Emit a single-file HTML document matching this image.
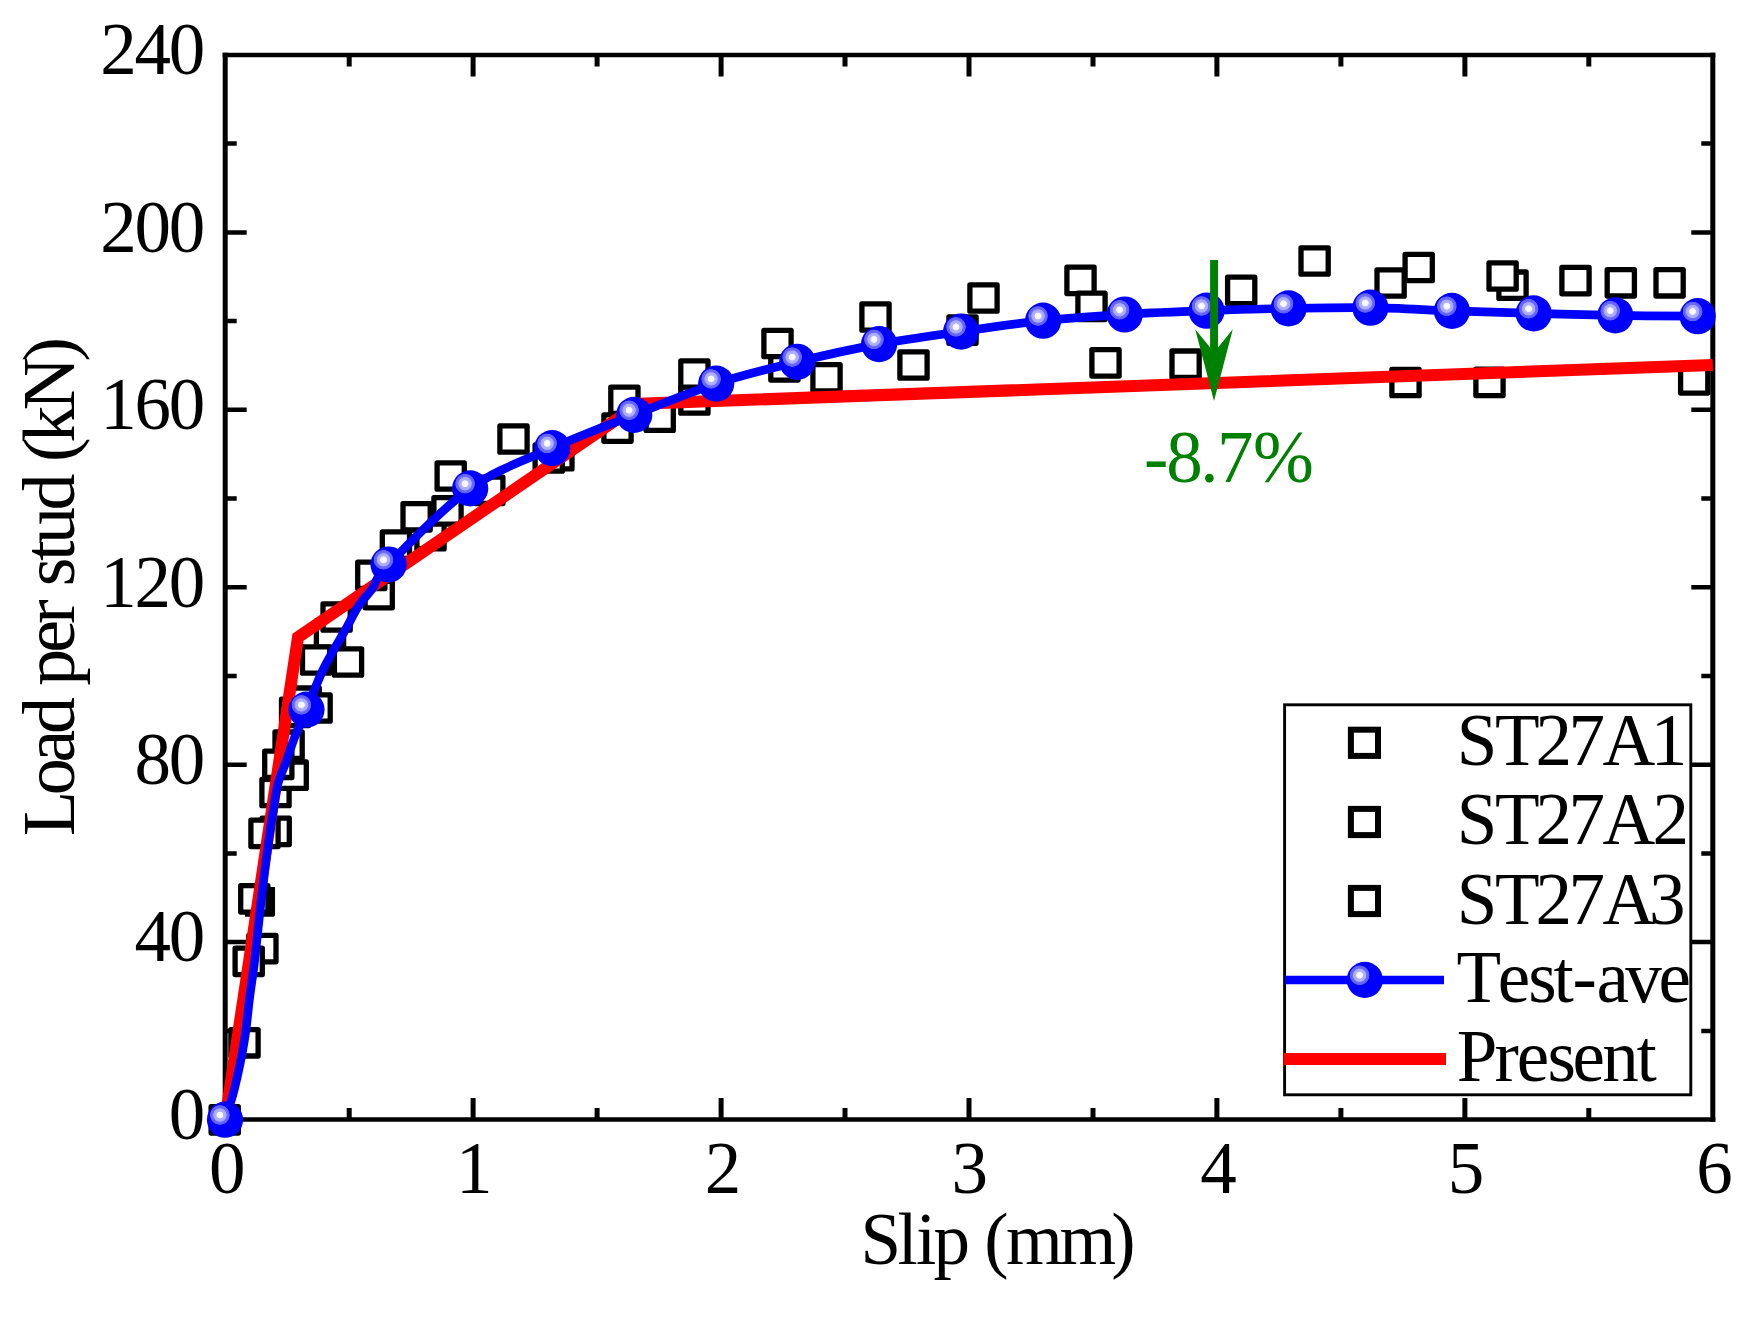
<!DOCTYPE html>
<html><head><meta charset="utf-8"><title>Load-slip curve</title>
<style>html,body{margin:0;padding:0;background:#fff}svg{display:block}</style></head>
<body>
<svg width="1761" height="1317" viewBox="0 0 1761 1317">
<defs>
<radialGradient id="ballh" cx="0.5" cy="0.5" r="0.5">
<stop offset="0" stop-color="#ffffff"/>
<stop offset="0.30" stop-color="#f4f4ff"/>
<stop offset="0.36" stop-color="#b4b4ff"/>
<stop offset="0.62" stop-color="#a8a8ff"/>
<stop offset="0.68" stop-color="#6c6cff"/>
<stop offset="0.92" stop-color="#6060ff"/>
<stop offset="1" stop-color="#0000ff"/>
</radialGradient>
</defs>
<rect width="1761" height="1317" fill="#fff"/>
<path d="M222.7,54.9 H1715.3 M222.7,1119.6 H1715.3" stroke="#000" stroke-width="4.5" fill="none"/>
<path d="M225.2,52.65 V1121.85 M1712.8,52.65 V1121.85" stroke="#000" stroke-width="5.0" fill="none"/>
<path d="M349.2,1119.6 v-11.5 M349.2,54.9 v11.5 M473.1,1119.6 v-21.5 M473.1,54.9 v21.5 M597.1,1119.6 v-11.5 M597.1,54.9 v11.5 M721.1,1119.6 v-21.5 M721.1,54.9 v21.5 M845.0,1119.6 v-11.5 M845.0,54.9 v11.5 M969.0,1119.6 v-21.5 M969.0,54.9 v21.5 M1093.0,1119.6 v-11.5 M1093.0,54.9 v11.5 M1216.9,1119.6 v-21.5 M1216.9,54.9 v21.5 M1340.9,1119.6 v-11.5 M1340.9,54.9 v11.5 M1464.9,1119.6 v-21.5 M1464.9,54.9 v21.5 M1588.8,1119.6 v-11.5 M1588.8,54.9 v11.5" stroke="#000" stroke-width="5.0" fill="none"/>
<path d="M225.2,1030.9 h11.5 M1712.8,1030.9 h-11.5 M225.2,942.1 h21.5 M1712.8,942.1 h-21.5 M225.2,853.4 h11.5 M1712.8,853.4 h-11.5 M225.2,764.7 h21.5 M1712.8,764.7 h-21.5 M225.2,676.0 h11.5 M1712.8,676.0 h-11.5 M225.2,587.2 h21.5 M1712.8,587.2 h-21.5 M225.2,498.5 h11.5 M1712.8,498.5 h-11.5 M225.2,409.8 h21.5 M1712.8,409.8 h-21.5 M225.2,321.1 h11.5 M1712.8,321.1 h-11.5 M225.2,232.4 h21.5 M1712.8,232.4 h-21.5 M225.2,143.6 h11.5 M1712.8,143.6 h-11.5" stroke="#000" stroke-width="4.5" fill="none"/>
<g fill="#fff" stroke="#000" stroke-width="5.3" stroke-linejoin="round">
<rect x="211.1" y="1106.7" width="27.2" height="26.4"/>
<rect x="230.9" y="1029.6" width="27.2" height="26.4"/>
<rect x="248.8" y="935.4" width="27.2" height="26.4"/>
<rect x="235.1" y="948.2" width="27.2" height="26.4"/>
<rect x="240.7" y="885.7" width="27.2" height="26.4"/>
<rect x="262.1" y="818.2" width="27.2" height="26.4"/>
<rect x="250.9" y="820.2" width="27.2" height="26.4"/>
<rect x="261.9" y="779.3" width="27.2" height="26.4"/>
<rect x="279.1" y="762.0" width="27.2" height="26.4"/>
<rect x="275.0" y="732.0" width="27.2" height="26.4"/>
<rect x="264.7" y="751.1" width="27.2" height="26.4"/>
<rect x="281.5" y="699.2" width="27.2" height="26.4"/>
<rect x="292.1" y="688.0" width="27.2" height="26.4"/>
<rect x="303.0" y="694.8" width="27.2" height="26.4"/>
<rect x="316.4" y="620.7" width="27.2" height="26.4"/>
<rect x="302.5" y="646.8" width="27.2" height="26.4"/>
<rect x="334.4" y="648.8" width="27.2" height="26.4"/>
<rect x="323.0" y="603.8" width="27.2" height="26.4"/>
<rect x="365.1" y="581.4" width="27.2" height="26.4"/>
<rect x="357.7" y="562.1" width="27.2" height="26.4"/>
<rect x="382.3" y="531.9" width="27.2" height="26.4"/>
<rect x="416.9" y="522.5" width="27.2" height="26.4"/>
<rect x="403.0" y="503.6" width="27.2" height="26.4"/>
<rect x="433.9" y="497.7" width="27.2" height="26.4"/>
<rect x="437.1" y="462.8" width="27.2" height="26.4"/>
<rect x="475.7" y="477.1" width="27.2" height="26.4"/>
<rect x="499.9" y="425.8" width="27.2" height="26.4"/>
<rect x="544.8" y="442.5" width="27.2" height="26.4"/>
<rect x="535.1" y="444.8" width="27.2" height="26.4"/>
<rect x="603.9" y="414.9" width="27.2" height="26.4"/>
<rect x="610.8" y="387.1" width="27.2" height="26.4"/>
<rect x="646.1" y="404.0" width="27.2" height="26.4"/>
<rect x="680.8" y="386.8" width="27.2" height="26.4"/>
<rect x="680.8" y="360.8" width="27.2" height="26.4"/>
<rect x="770.8" y="353.7" width="27.2" height="26.4"/>
<rect x="763.9" y="330.3" width="27.2" height="26.4"/>
<rect x="812.9" y="364.6" width="27.2" height="26.4"/>
<rect x="861.9" y="303.8" width="27.2" height="26.4"/>
<rect x="899.9" y="351.8" width="27.2" height="26.4"/>
<rect x="948.9" y="316.9" width="27.2" height="26.4"/>
<rect x="969.9" y="284.8" width="27.2" height="26.4"/>
<rect x="1066.9" y="267.2" width="27.2" height="26.4"/>
<rect x="1077.9" y="293.2" width="27.2" height="26.4"/>
<rect x="1091.9" y="349.7" width="27.2" height="26.4"/>
<rect x="1172.0" y="351.0" width="27.2" height="26.4"/>
<rect x="1227.6" y="277.2" width="27.2" height="26.4"/>
<rect x="1301.0" y="247.8" width="27.2" height="26.4"/>
<rect x="1377.0" y="269.8" width="27.2" height="26.4"/>
<rect x="1405.1" y="254.3" width="27.2" height="26.4"/>
<rect x="1391.9" y="369.3" width="27.2" height="26.4"/>
<rect x="1475.9" y="369.2" width="27.2" height="26.4"/>
<rect x="1498.9" y="272.0" width="27.2" height="26.4"/>
<rect x="1489.0" y="262.8" width="27.2" height="26.4"/>
<rect x="1561.9" y="267.4" width="27.2" height="26.4"/>
<rect x="1607.2" y="269.6" width="27.2" height="26.4"/>
<rect x="1656.0" y="269.6" width="27.2" height="26.4"/>
<rect x="1680.6" y="366.7" width="27.2" height="26.4"/>
<path d="M272.4,887 V914.2 H245" fill="none"/>
</g>
<polyline fill="none" stroke="#ff0000" stroke-width="12" stroke-linejoin="miter" stroke-linecap="butt" points="225.2,1119.6 298.0,637.2 639.7,403.8 1712.8,365.0"/>
<path fill="none" stroke="#0000ff" stroke-width="8.7" stroke-linejoin="round" d="M225.0,1119.7 C226.6,1114.6 231.1,1102.5 234.3,1089.3 C237.5,1076.1 241.8,1056.0 244.3,1040.7 C246.9,1025.4 247.9,1010.7 249.6,997.4 C251.3,984.1 252.7,977.2 254.6,961.0 C256.5,944.8 258.7,921.4 261.2,900.0 C263.7,878.6 267.9,846.6 269.8,832.5 C271.7,818.4 271.1,823.7 272.5,815.6 C273.9,807.5 275.8,792.3 277.9,783.8 C280.0,775.2 282.8,770.7 285.1,764.3 C287.4,757.9 289.7,750.8 291.7,745.2 C293.7,739.6 294.8,736.5 297.3,730.6 C299.8,724.7 302.5,719.1 306.5,709.6 C310.5,700.1 316.7,683.6 321.1,673.9 C325.5,664.1 328.9,658.7 333.1,651.1 C337.3,643.5 341.9,635.9 346.2,628.3 C350.5,620.7 354.3,612.2 358.7,605.6 C363.1,599.0 367.4,595.4 372.4,588.5 C377.4,581.6 372.3,581.2 388.6,564.5 C404.9,547.8 442.9,507.8 470.2,488.4 C497.5,469.0 524.9,460.4 552.2,448.1 C579.5,435.9 606.9,425.6 634.2,414.9 C661.5,404.1 689.0,392.5 716.2,383.6 C743.4,374.8 770.1,368.4 797.3,361.8 C824.4,355.2 851.8,349.1 879.1,344.1 C906.4,339.1 933.8,335.5 961.1,331.6 C988.4,327.7 1015.8,323.6 1043.1,320.7 C1070.4,317.8 1097.5,316.2 1124.7,314.5 C1152.0,312.8 1179.3,311.7 1206.6,310.7 C1233.9,309.7 1261.3,308.9 1288.6,308.4 C1315.9,307.9 1343.2,307.3 1370.4,307.7 C1397.6,308.1 1424.7,309.9 1451.9,310.9 C1479.1,311.8 1506.5,312.6 1533.7,313.4 C1560.9,314.1 1588.0,314.9 1615.3,315.4 C1642.6,315.9 1684.0,316.1 1697.7,316.2"/>
<circle cx="225.0" cy="1119.7" r="18.1" fill="#0000ff"/><circle cx="219.9" cy="1115.0" r="10.2" fill="url(#ballh)"/>
<circle cx="306.5" cy="709.6" r="18.1" fill="#0000ff"/><circle cx="301.4" cy="704.9" r="10.2" fill="url(#ballh)"/>
<circle cx="388.6" cy="564.5" r="18.1" fill="#0000ff"/><circle cx="383.5" cy="559.8" r="10.2" fill="url(#ballh)"/>
<circle cx="470.2" cy="488.4" r="18.1" fill="#0000ff"/><circle cx="465.1" cy="483.7" r="10.2" fill="url(#ballh)"/>
<circle cx="552.2" cy="448.1" r="18.1" fill="#0000ff"/><circle cx="547.1" cy="443.4" r="10.2" fill="url(#ballh)"/>
<circle cx="634.2" cy="414.9" r="18.1" fill="#0000ff"/><circle cx="629.1" cy="410.2" r="10.2" fill="url(#ballh)"/>
<circle cx="716.2" cy="383.6" r="18.1" fill="#0000ff"/><circle cx="711.1" cy="378.9" r="10.2" fill="url(#ballh)"/>
<circle cx="797.3" cy="361.8" r="18.1" fill="#0000ff"/><circle cx="792.2" cy="357.1" r="10.2" fill="url(#ballh)"/>
<circle cx="879.1" cy="344.1" r="18.1" fill="#0000ff"/><circle cx="874.0" cy="339.4" r="10.2" fill="url(#ballh)"/>
<circle cx="961.1" cy="331.6" r="18.1" fill="#0000ff"/><circle cx="956.0" cy="326.9" r="10.2" fill="url(#ballh)"/>
<circle cx="1043.1" cy="320.7" r="18.1" fill="#0000ff"/><circle cx="1038.0" cy="316.0" r="10.2" fill="url(#ballh)"/>
<circle cx="1124.7" cy="314.5" r="18.1" fill="#0000ff"/><circle cx="1119.6" cy="309.8" r="10.2" fill="url(#ballh)"/>
<circle cx="1206.6" cy="310.7" r="18.1" fill="#0000ff"/><circle cx="1201.5" cy="306.0" r="10.2" fill="url(#ballh)"/>
<circle cx="1288.6" cy="308.4" r="18.1" fill="#0000ff"/><circle cx="1283.5" cy="303.7" r="10.2" fill="url(#ballh)"/>
<circle cx="1370.4" cy="307.7" r="18.1" fill="#0000ff"/><circle cx="1365.3" cy="303.0" r="10.2" fill="url(#ballh)"/>
<circle cx="1451.9" cy="310.9" r="18.1" fill="#0000ff"/><circle cx="1446.8" cy="306.2" r="10.2" fill="url(#ballh)"/>
<circle cx="1533.7" cy="313.4" r="18.1" fill="#0000ff"/><circle cx="1528.6" cy="308.7" r="10.2" fill="url(#ballh)"/>
<circle cx="1615.3" cy="315.4" r="18.1" fill="#0000ff"/><circle cx="1610.2" cy="310.7" r="10.2" fill="url(#ballh)"/>
<circle cx="1697.7" cy="316.2" r="18.1" fill="#0000ff"/><circle cx="1692.6" cy="311.5" r="10.2" fill="url(#ballh)"/>
<text x="209.0" y="1193.2" font-family="Liberation Serif, serif" font-size="73" fill="#000">0</text>
<text x="456.0" y="1193.2" font-family="Liberation Serif, serif" font-size="73" fill="#000">1</text>
<text x="704.8" y="1193.2" font-family="Liberation Serif, serif" font-size="73" fill="#000">2</text>
<text x="951.6" y="1193.2" font-family="Liberation Serif, serif" font-size="73" fill="#000">3</text>
<text x="1200.2" y="1193.2" font-family="Liberation Serif, serif" font-size="73" fill="#000">4</text>
<text x="1447.7" y="1193.2" font-family="Liberation Serif, serif" font-size="73" fill="#000">5</text>
<text x="1696.3" y="1193.2" font-family="Liberation Serif, serif" font-size="73" fill="#000">6</text>
<text x="168.8" y="1138.9" font-family="Liberation Serif, serif" font-size="73">0</text>
<text x="134.5 168.8" y="961.4" font-family="Liberation Serif, serif" font-size="73">40</text>
<text x="134.5 168.8" y="784.0" font-family="Liberation Serif, serif" font-size="73">80</text>
<text x="100.2 134.5 168.8" y="606.5" font-family="Liberation Serif, serif" font-size="73">120</text>
<text x="100.2 134.5 168.8" y="429.1" font-family="Liberation Serif, serif" font-size="73">160</text>
<text x="100.2 134.5 168.8" y="251.7" font-family="Liberation Serif, serif" font-size="73">200</text>
<text x="100.2 134.5 168.8" y="74.2" font-family="Liberation Serif, serif" font-size="73">240</text>
<text x="860.4 897.4 916.0 933.5 966.4 984.3 1006.0 1059.5 1111.3" y="1263.8" font-family="Liberation Serif, serif" font-size="73" fill="#000">Slip (mm)</text>
<text transform="translate(73.8,0) rotate(-90)" font-family="Liberation Serif, serif" font-size="74"><tspan x="-836.1" textLength="139.2" lengthAdjust="spacing">Load</tspan> <tspan x="-685.7" textLength="86.4" lengthAdjust="spacing">per</tspan> <tspan x="-586.2" textLength="112.6" lengthAdjust="spacing">stud</tspan> <tspan x="-462.1" textLength="124.9" lengthAdjust="spacing">(kN)</tspan></text>
<rect x="1284.6" y="704.8" width="406.2" height="390" fill="#fff" stroke="#000" stroke-width="2.9"/>
<rect x="1350.9" y="729.7" width="27.1" height="26.2" fill="none" stroke="#000" stroke-width="6"/>
<text x="1456.8 1494.9 1535.5 1568.4 1602.5 1650.7" y="765.0" font-family="Liberation Serif, serif" font-size="73" fill="#000">ST27A1</text>
<rect x="1350.9" y="808.9" width="27.1" height="26.2" fill="none" stroke="#000" stroke-width="6"/>
<text x="1456.8 1494.9 1535.5 1568.4 1602.5 1652.4" y="844.2" font-family="Liberation Serif, serif" font-size="73" fill="#000">ST27A2</text>
<rect x="1350.9" y="887.9" width="27.1" height="26.2" fill="none" stroke="#000" stroke-width="6"/>
<text x="1456.8 1494.9 1535.5 1568.4 1602.5 1649.1" y="923.5" font-family="Liberation Serif, serif" font-size="73" fill="#000">ST27A3</text>
<line x1="1285" y1="980" x2="1444" y2="980" stroke="#0000ff" stroke-width="8.3"/>
<circle cx="1364.8" cy="979.9" r="18.1" fill="#0000ff"/><circle cx="1359.6" cy="975.2" r="10.2" fill="url(#ballh)"/>
<text x="1456.6 1497.7 1528.2 1553.4 1572.5 1596.5 1625.2 1658.6" y="1002.4" font-family="Liberation Serif, serif" font-size="73" fill="#000">Test-ave</text>
<line x1="1283.5" y1="1059" x2="1446" y2="1059" stroke="#ff0000" stroke-width="12"/>
<text x="1456.7 1494.6 1516.8 1547.4 1572.5 1602.3 1636.4" y="1080.8" font-family="Liberation Serif, serif" font-size="73" fill="#000">Present</text>
<polygon fill="#008000" points="1214,401 1195.2,329.2 1210.1,347.6 1210.1,260.1 1218,260.1 1218,347.6 1232.8,329.2"/>
<text x="1144.1 1166.2 1200.2 1217.1 1253.0" y="482.4" font-family="Liberation Serif, serif" font-size="73" fill="#008000">-8.7%</text>
</svg>
</body></html>
